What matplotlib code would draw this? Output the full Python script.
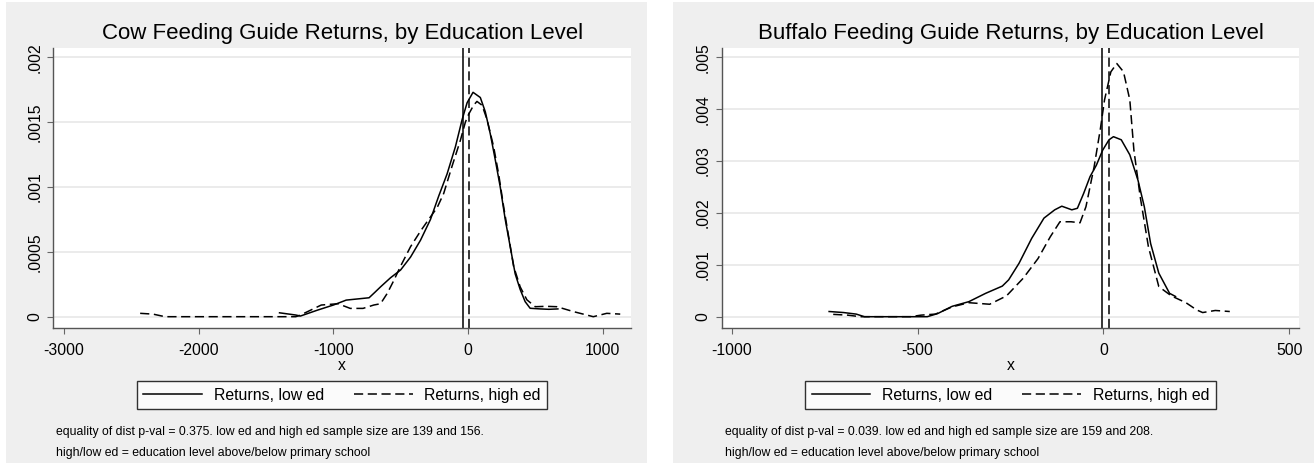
import matplotlib
matplotlib.use("Agg")
import matplotlib.pyplot as plt
from matplotlib.patches import Rectangle

plt.rcParams['font.family'] = ['Liberation Sans', 'DejaVu Sans']

# ---- data ----
cow_low_x = [-1400, -1280, -1245, -1120, -1000, -905, -735, -690, -650, -576, -501, -427,
             -353, -279, -218, -156, -94, -44, -7, 37, 91, 128, 165, 202, 239, 276, 313,
             350, 387, 424, 461, 535, 600, 667]
cow_low_y = [.00003, .000013, .000005, .00005, .00009, .000128, .000146, .00019, .00023,
             .0003, .00036, .00046, .00059, .00075, .00093, .0011, .00131, .00152, .00165,
             .00173, .00169, .00158, .00141, .00121, .001, .00075, .00054, .00033, .00021,
             .000116, .000065, .00006, .000057, .00006]
cow_high_x = [-2435, -2340, -2250, -1800, -1280, -1250, -1090, -965, -875, -780, -700, -650,
              -600, -551, -501, -427, -353, -279, -230, -181, -119, -57, -20, 4, 41, 66, 104,
              141, 190, 227, 264, 301, 338, 387, 437, 499, 580, 660, 780, 930, 1030, 1130]
cow_high_y = [.000026, .00002, 0, 0, 0, .00001, .00009, .0001, .000064, .000064, .00009,
              .0001, .00018, .00028, .00039, .00054, .00066, .00077, .00084, .00095, .00116,
              .00136, .0015, .00156, .00163, .00166, .00163, .00152, .00131, .0011, .00085,
              .00062, .00039, .00023, .00013, .000077, .00008, .000077, .00004, 0, .000026,
              .00002]

buf_low_x = [-738, -699, -665, -643, -474, -446, -407, -362, -317, -272, -255, -227, -193,
             -160, -131, -112, -85, -70, -53, -36, -19, -2, 15, 27, 48, 71, 93, 110, 127,
             149, 178, 194]
buf_low_y = [.0001, .00008, .00005, 0, 0, .00006, .0002, .00029, .00045, .00059, .00071,
             .00103, .00151, .0019, .00206, .00213, .00206, .00209, .00238, .0027, .00292,
             .00321, .00341, .00347, .00341, .00312, .00263, .00212, .00141, .00084, .00045,
             .00039]
buf_high_x = [-727, -688, -654, -519, -491, -452, -407, -362, -306, -261, -216, -176, -143,
              -117, -87, -63, -47, -25, -8, 3, 20, 36, 54, 71, 82, 99, 121, 149, 183, 222,
              251, 267, 301, 340]
buf_high_y = [.000045, .00003, 0, 0, .00003, .00005, .00019, .00027, .00024, .0004, .00074,
              .00112, .00154, .00183, .00183, .00181, .00212, .00289, .00363, .00418, .00472,
              .00488, .00472, .00418, .00321, .00231, .00135, .00058, .0004, .00027, .00013,
              .00008, .00012, .0001]

cow_medians = [-40, 5]
buf_medians = [-5, 14]

cow_xticks = [-3000, -2000, -1000, 0, 1000]
cow_yticks = [0, .0005, .001, .0015, .002]
cow_ylabels = ['0', '.0005', '.001', '.0015', '.002']
buf_xticks = [-1000, -500, 0, 500]
buf_yticks = [0, .001, .002, .003, .004, .005]
buf_ylabels = ['0', '.001', '.002', '.003', '.004', '.005']

titles = ["Cow Feeding Guide Returns, by Education Level",
          "Buffalo Feeding Guide Returns, by Education Level"]
notes = ["equality of dist p-val = 0.375. low ed and high ed sample size are 139 and 156.\n"
         "high/low ed = education level above/below primary school",
         "equality of dist p-val = 0.039. low ed and high ed sample size are 159 and 208.\n"
         "high/low ed = education level above/below primary school"]
labels = ["Returns, low ed", "Returns, high ed"]

W, H = 1314, 465
fig = plt.figure(figsize=(W / 100, H / 100), dpi=100)
fig.patch.set_facecolor('white')


def fx(px):
    return px / W


def fy(py):
    return 1 - py / H


panels = [
    dict(bg=(6, 647), ax=(53.3, 631), xlim=(-3080, 1210), ylim=(-0.0000848, 0.002074),
         lx=cow_low_x, ly=cow_low_y, hx=cow_high_x, hy=cow_high_y, med=cow_medians,
         xt=cow_xticks, yt=cow_yticks, yl=cow_ylabels),
    dict(bg=(673, 1314), ax=(721.7, 1299.3), xlim=(-1027, 527), ylim=(-0.000212, 0.005185),
         lx=buf_low_x, ly=buf_low_y, hx=buf_high_x, hy=buf_high_y, med=buf_medians,
         xt=buf_xticks, yt=buf_yticks, yl=buf_ylabels),
]

top, bot = 47.7, 327.7
for i, p in enumerate(panels):
    b0, b1 = p['bg']
    fig.patches.append(Rectangle((fx(b0), fy(463)), fx(b1 - b0), (463 - 2.5) / H,
                                 transform=fig.transFigure, facecolor='#efefef',
                                 edgecolor='none', zorder=0))
    a0, a1 = p['ax']
    ax = fig.add_axes([fx(a0), fy(bot), fx(a1 - a0), (bot - top) / H])
    ax.set_facecolor('white')
    ax.set_zorder(1)
    ax.plot(p['lx'], p['ly'], color='black', lw=1.1, label=labels[0])
    ax.plot(p['hx'], p['hy'], color='black', lw=1.1, dashes=(6, 3), label=labels[1])
    ax.axvline(p['med'][0], color='black', lw=1.1)
    ax.axvline(p['med'][1], color='black', lw=1.1, dashes=(6, 3))
    ax.set_xlim(*p['xlim'])
    ax.set_ylim(*p['ylim'])
    ax.set_xticks(p['xt'])
    ax.set_xticklabels([str(v) for v in p['xt']])
    ax.set_yticks(p['yt'])
    ax.set_yticklabels(p['yl'], rotation=90, va='center')
    ax.yaxis.grid(True, color='#e6e6e6', lw=1.1)
    ax.set_axisbelow(True)
    for s in ['top', 'right']:
        ax.spines[s].set_visible(False)
    for s in ['left', 'bottom']:
        ax.spines[s].set_color('#555555')
        ax.spines[s].set_linewidth(1.0)
    ax.tick_params(axis='both', length=4, width=0.8, color='#666666', labelsize=11.3,
                   pad=4)
    ax.tick_params(axis='x', pad=7)
    ax.set_xlabel('x', fontsize=11.3, labelpad=0)
    cx = (a0 + a1) / 2
    fig.text(fx(cx), fy(33), titles[i], ha='center', va='center', fontsize=16)
    handles, labs = ax.get_legend_handles_labels()
    leg = fig.legend(handles, labs, loc='center', bbox_to_anchor=(fx(cx), fy(395)),
                     ncol=2, fontsize=11.4, frameon=True, fancybox=False,
                     handlelength=3.7, handletextpad=0.74, columnspacing=1.9,
                     borderpad=0.4)
    leg.get_frame().set_edgecolor('black')
    leg.get_frame().set_linewidth(1.0)
    fig.text(fx(a0 + 3), fy(426), notes[i], ha='left', va='top', fontsize=8.8,
             linespacing=1.95)

fig.savefig('out.png', dpi=100)
